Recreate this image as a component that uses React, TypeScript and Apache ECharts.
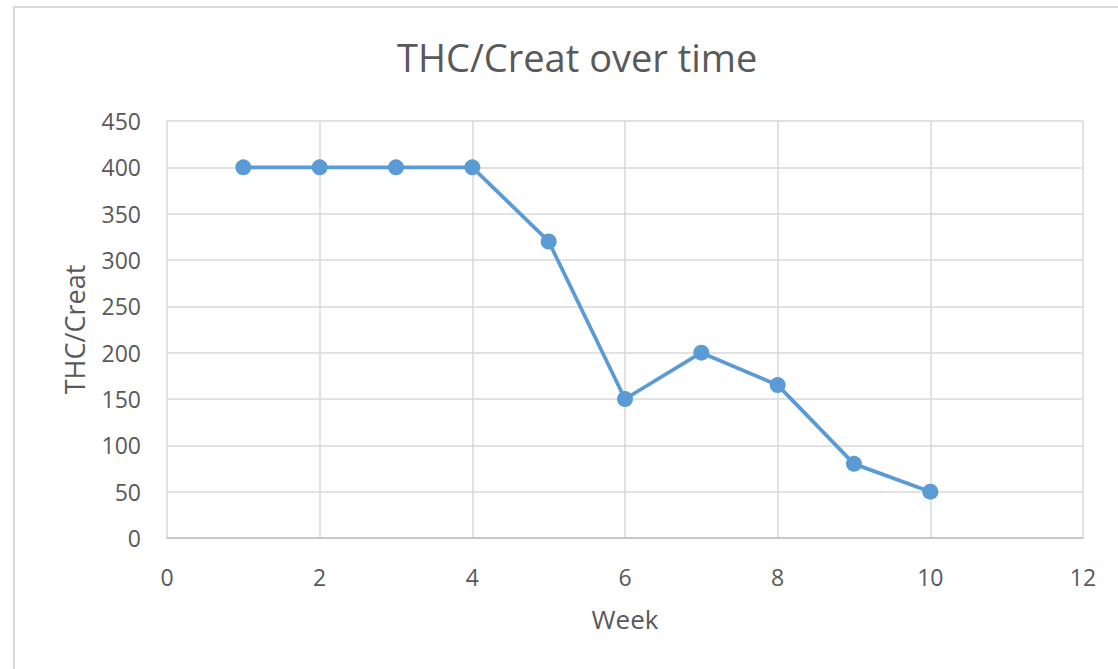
import React, { useEffect, useRef } from "react";
import * as echarts from "echarts";

const weeks = [1, 2, 3, 4, 5, 6, 7, 8, 9, 10];
const thcCreat = [400, 400, 400, 400, 320, 150, 200, 165, 80, 50];
const chartTitle = "THC/Creat over time";
const xName = "Week";
const yName = "THC/Creat";

const FONT = "'Open Sans', 'Noto Sans', sans-serif";

export default function App() {
  const ref = useRef<HTMLDivElement>(null);
  useEffect(() => {
    if (!ref.current) return;
    const chart = echarts.init(ref.current, null, { renderer: "svg" });
    chart.setOption({
      animation: false,
      backgroundColor: "#ffffff",
      title: {
        text: chartTitle,
        left: 392,
        top: 33,
        textStyle: { fontFamily: FONT, fontSize: 38, fontWeight: "normal", color: "#595959" },
      },
      graphic: [
        {
          type: "rect",
          shape: { x: 14, y: 7, width: 1200, height: 800 },
          style: { fill: "none", stroke: "#d9d9d9", lineWidth: 2 },
          silent: true,
        },
      ],
      grid: { left: 167, top: 121, right: 35, bottom: 131, containLabel: false },
      xAxis: {
        type: "value",
        min: 0,
        max: 12,
        interval: 2,
        name: xName,
        nameLocation: "middle",
        nameGap: 68,
        nameTextStyle: { fontFamily: FONT, fontSize: 26, color: "#595959" },
        axisLine: { show: true, lineStyle: { color: "#bfbfbf", width: 1.5 } },
        axisTick: { show: false },
        axisLabel: { fontFamily: FONT, fontSize: 23, color: "#595959", margin: 27 },
        splitLine: { show: true, lineStyle: { color: "#d9d9d9", width: 1.5 } },
      },
      yAxis: {
        type: "value",
        min: 0,
        max: 450,
        interval: 50,
        name: yName,
        nameLocation: "middle",
        nameGap: 79,
        nameTextStyle: { fontFamily: FONT, fontSize: 27, color: "#595959" },
        axisLine: { show: false },
        axisTick: { show: false },
        axisLabel: { fontFamily: FONT, fontSize: 23, color: "#595959", margin: 26 },
        splitLine: { show: true, lineStyle: { color: "#d9d9d9", width: 1.5 } },
      },
      series: [
        {
          type: "line",
          data: weeks.map((w, i) => [w, thcCreat[i]]),
          symbol: "circle",
          symbolSize: 16,
          lineStyle: { color: "#5b9bd5", width: 3.75 },
          itemStyle: { color: "#5b9bd5" },
        },
      ],
    });
    return () => chart.dispose();
  }, []);
  return (
    <div
      ref={ref}
      style={{ position: "absolute", left: 0, top: 0, width: 1118, height: 669 }}
    />
  );
}
